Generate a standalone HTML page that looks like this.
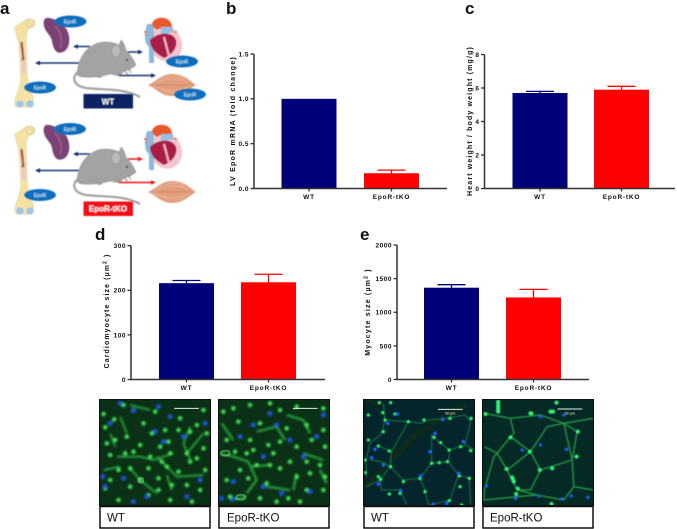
<!DOCTYPE html>
<html lang="en">
<head>
<meta charset="utf-8">
<title>EpoR-tKO figure</title>
<style>
html,body{margin:0;padding:0;background:#fff;}
#fig{display:block;position:absolute;left:0;top:0;}
text{font-family:"Liberation Sans",sans-serif;}
.panel{font-size:17px;font-weight:bold;fill:#111;}
.rec{font-size:5px;fill:#dff;text-anchor:middle;}
.lbl{font-size:11.5px;fill:#111;}
</style>
</head>
<body>
<svg id="fig" width="677" height="529" viewBox="0 0 677 529" xmlns="http://www.w3.org/2000/svg">
<defs>
<filter id="soft" x="-5%" y="-5%" width="110%" height="110%"><feGaussianBlur stdDeviation="3.2"/></filter>
<filter id="soft2" x="-5%" y="-5%" width="110%" height="110%"><feGaussianBlur stdDeviation="1.8"/></filter>
<filter id="sm" x="-5%" y="-5%" width="110%" height="110%"><feGaussianBlur stdDeviation="0.4"/></filter>
<filter id="chartsoft" x="0" y="0" width="677" height="529" filterUnits="userSpaceOnUse"><feGaussianBlur stdDeviation="0.25"/></filter>
<marker id="ab" viewBox="0 0 6 6" refX="5" refY="3" markerWidth="3.2" markerHeight="3.2" orient="auto-start-reverse"><path d="M0 0L6 3L0 6z" fill="#12306f"/></marker>
<marker id="ar" viewBox="0 0 6 6" refX="5" refY="3" markerWidth="3.2" markerHeight="3.2" orient="auto-start-reverse"><path d="M0 0L6 3L0 6z" fill="#f01818"/></marker>
<g id="bone">
<path d="M15 27 L26 20 C28 18 35 19 35 23 C35 27 31 28 28 29 L26 36 L27 76 C28 84 32 92 33 98 C34 103 33 107 30 107 L18 107 C15 107 14 103 16 97 C19 90 21 84 21 76 L19 42 C17 36 15 32 15 27Z" fill="#f4e2a2" stroke="#e3cd8c" stroke-width=".7"/>
<circle cx="30" cy="23" r="4" fill="#efe0a8" stroke="#cfc7a0" stroke-width=".6"/>
<path d="M21.500 42 L23.500 60" stroke="#b9485a" stroke-width="2.400" fill="none"/>
<path d="M23.500 60 L24 73" stroke="#eec0d0" stroke-width="3" fill="none"/>
<path d="M21 44v4M23 52v4M22 58v3" stroke="#4f8a7a" stroke-width="1"/>
<ellipse cx="20" cy="104" rx="3.800" ry="3.600" fill="#9cc6e6"/>
<ellipse cx="30" cy="104" rx="3.800" ry="3.600" fill="#9cc6e6"/>
</g>
<g id="spleen">
<path d="M46 18 C52 17 62 22 67 30 C71 38 70 49 63 52 C56 55 53 48 52 41 C51 35 45 32 44 26 C43 22 44 19 46 18Z" fill="#7d4274"/>
<path d="M55 26 C61 32 63 40 60 48" stroke="#a06a96" stroke-width="1" fill="none"/>
</g>
<g id="mouse">
<path d="M78 72 C71 78 74 86 86 88 C100 90 125 88 140 97" fill="none" stroke="#a3a3a3" stroke-width="2.200"/>
<path d="M77 74 C78 60 84 48 98 43 C106 41 113 42 119 45 L121 40 C123 41 125 46 126 50 C130 54 134 60 136 65 C133 68 129 70 124 71 L120 76 L110 74 C104 76 92 78 83 77 C80 77 78 76 77 74Z" fill="#a3a3a3" stroke="#8e8e8e" stroke-width=".5"/>
<ellipse cx="116" cy="51" rx="4.500" ry="6" fill="#b9b9b9" stroke="#8e8e8e" stroke-width=".6"/>
<circle cx="127" cy="60" r="1" fill="#222"/>
<path d="M96 76l3 1.500l3 -1M118 73l3 3M124 70l5 6M128 68l3 5" stroke="#8a8a8a" stroke-width="1" fill="none"/>
</g>
<g id="heart">
<ellipse cx="166" cy="44" rx="16" ry="18" fill="#f3c6cf" transform="rotate(-22 166 44)"/>
<path d="M147 24h7v39h-5v-16c-3 -2 -4 -6 -4 -10c0 -5 1 -9 2 -13z" fill="#8cb8da"/>
<path d="M152 25 C152 20 158 17 164 18 C170 19 173 24 172 31 L165 33 L164 27 L156 30Z" fill="#e9592c"/>
<path d="M161 27h12v6h-5l-2 10h-6z" fill="#97bfe0"/>
<path d="M150 40 C156 33 172 30 176 40 C178 47 172 55 164 58 C156 54 150 48 150 40Z" fill="#a81b45"/>
<path d="M164 37 L169 56" stroke="#f0b6c4" stroke-width="2.200"/>
<path d="M147 32h-3M177 32h-3M147 35h-2" stroke="#e9592c" stroke-width="1.600"/>
</g>
<g id="muscle">
<path d="M147 85 C154 84 160 74 172 74 C185 74 191 82 196 85 C190 88 184 96 172 96 C160 96 154 86 147 85Z" fill="#e19c7a"/>
<path d="M155 84 C165 78 180 77 188 83M154 86 C166 92 180 92 189 86M158 81 C168 75 178 75 184 79M160 88 C168 94 178 94 184 90" stroke="#f0c2a8" stroke-width=".6" fill="none"/>
<path d="M155 85H190" stroke="#c9785a" stroke-width=".5"/>
</g>
</defs>

<rect width="677" height="529" fill="#fff"/>

<text class="panel" x="0" y="14">a</text>
<text class="panel" x="226" y="14">b</text>
<text class="panel" x="465" y="14">c</text>
<text class="panel" x="95" y="240">d</text>
<text class="panel" x="360" y="240">e</text>

<g filter="url(#sm)">
<use href="#bone"/>
<use href="#spleen"/>
<use href="#heart"/>
<use href="#muscle"/>
<path d="M90 46.500H74" stroke="#12306f" stroke-width="1.500" marker-end="url(#ab)"/>
<path d="M84 63H36" stroke="#12306f" stroke-width="1.500" marker-end="url(#ab)"/>
<use href="#mouse"/>
<path d="M128 52H142" stroke="#12306f" stroke-width="1.500" marker-end="url(#ab)"/>
<path d="M119 75.500H155" stroke="#12306f" stroke-width="1.500" marker-end="url(#ab)"/>
<g><ellipse cx="70.500" cy="21.500" rx="16" ry="6" fill="#0a6ebd"/><text class="rec" x="70" y="23.500">EpoR</text></g>
<g><ellipse cx="40" cy="87.500" rx="16" ry="6" fill="#0a6ebd"/><text class="rec" x="40" y="89.500">EpoR</text></g>
<g><ellipse cx="182" cy="61.500" rx="16" ry="6" fill="#0a6ebd"/><text class="rec" x="182" y="63.500">EpoR</text></g>
<g><ellipse cx="190" cy="94.500" rx="16" ry="6" fill="#0a6ebd"/><text class="rec" x="190" y="96.500">EpoR</text></g>
<g><rect x="83.500" y="94" width="49.500" height="14.500" fill="#0b2463"/><text x="108" y="104.500" fill="#fff" font-size="8" font-weight="bold" text-anchor="middle">WT</text></g>
</g>

<g filter="url(#sm)">
<use href="#bone" y="107"/>
<use href="#spleen" y="107"/>
<use href="#heart" y="107"/>
<use href="#muscle" y="107"/>
<path d="M90 154H74" stroke="#12306f" stroke-width="1.500" marker-end="url(#ab)"/>
<path d="M84 170.500H36" stroke="#12306f" stroke-width="1.500" marker-end="url(#ab)"/>
<use href="#mouse" y="107"/>
<path d="M128 159H142" stroke="#f01818" stroke-width="1.500" marker-end="url(#ar)"/>
<path d="M119 182.500H155" stroke="#f01818" stroke-width="1.500" marker-end="url(#ar)"/>
<g><ellipse cx="70" cy="129" rx="16" ry="6" fill="#0a6ebd"/><text class="rec" x="70" y="131">EpoR</text></g>
<g><ellipse cx="40" cy="195" rx="16" ry="6" fill="#0a6ebd"/><text class="rec" x="40" y="197">EpoR</text></g>
<g><rect x="83.500" y="201.500" width="49.500" height="14.500" fill="#f40f14"/><text x="108" y="211.500" fill="#fff" font-size="8" font-weight="bold" text-anchor="middle">EpoR-tKO</text></g>
</g>

<g id="charts" filter="url(#chartsoft)"></g>

<!-- Micrographs -->
<svg x="99" y="399" width="112" height="107" viewBox="27 27 335 321">
<rect x="27" y="27" width="335" height="321" fill="#0a3015"/>
<g filter="url(#soft)">
<path d="M80 200H150L190 210L250 190M60 130L75 170M90 80L110 130M200 200L260 260L340 255M230 255L245 300M40 240L90 230M180 60L120 45M300 110L280 160L300 210M340 130L290 190M150 270L200 310M120 235L150 270" stroke="#27a03a" stroke-width="6" fill="none"/>
<path d="M72 88h.1M45 112h.1M40 72h.1M75 150h.1M150 165h.1M210 170h.1M235 155h.1M265 120h.1M300 125h.1M320 105h.1M350 130h.1M195 65h.1M130 60h.1M100 45h.1M60 195h.1M85 240h.1M60 270h.1M45 295h.1M120 235h.1M175 235h.1M230 230h.1M265 245h.1M300 215h.1M345 240h.1M150 270h.1M120 290h.1M205 300h.1M245 285h.1M290 285h.1M330 300h.1M175 315h.1M85 330h.1M240 330h.1M305 335h.1M130 185h.1M180 200h.1M240 190h.1M290 190h.1M340 175h.1M110 140h.1M185 130h.1M225 120h.1M160 100h.1M270 85h.1M340 60h.1M50 160h.1M205 265h.1M320 205h.1M105 190h.1M215 215h.1" stroke="#46f058" stroke-width="13" stroke-linecap="round" fill="none"/>
<path d="M45 290h.1M38 260h.1M205 50h.1M240 80h.1M130 62h.1M195 125h.1M100 265h.1M345 100h.1M170 320h.1M290 320h.1M130 335h.1M60 100h.1M90 40h.1M280 140h.1M330 270h.1M220 155h.1" stroke="#1c55e0" stroke-width="15" stroke-linecap="round" fill="none"/>
</g>
<circle cx="152" cy="271" r="8" fill="none" stroke="#7cf08c" stroke-width="2.500" filter="url(#soft2)"/>
<path d="M252 55H326" stroke="#e8f0e8" stroke-width="3"/>
<rect x="27.500" y="27.500" width="334" height="320" fill="none" stroke="#111" stroke-width="5"/>
</svg>

<svg x="218" y="399" width="112" height="107" viewBox="384 27 336 321">
<rect x="384" y="27" width="336" height="321" fill="#0a3015"/>
<g filter="url(#soft)">
<path d="M395 190L430 200L475 215L500 270L470 310M395 100L430 150M590 75L640 90L660 130M620 250L610 300M480 230L540 225M500 125L560 110L585 150M640 190L700 210M420 330L470 320M530 290L600 300M690 240L710 280" stroke="#27a03a" stroke-width="7" fill="none"/>
<path d="M400 65h.1M430 55h.1M480 45h.1M540 40h.1M570 60h.1M620 50h.1M700 55h.1M445 95h.1M510 100h.1M590 115h.1M650 105h.1M700 120h.1M410 150h.1M480 150h.1M535 165h.1M570 155h.1M620 170h.1M665 150h.1M705 170h.1M435 185h.1M490 180h.1M550 190h.1M600 215h.1M650 215h.1M690 225h.1M450 240h.1M500 225h.1M540 225h.1M570 235h.1M620 260h.1M660 250h.1M705 260h.1M410 270h.1M475 265h.1M530 280h.1M595 325h.1M650 300h.1M700 300h.1M420 320h.1M510 325h.1M560 335h.1M630 335h.1M470 190h.1" stroke="#46f058" stroke-width="13" stroke-linecap="round" fill="none"/>
<path d="M430 275h.1M395 325h.1M430 327h.1M640 200h.1M540 70h.1M490 105h.1M600 150h.1M520 290h.1M575 310h.1M450 140h.1M700 75h.1M680 140h.1M520 200h.1M560 105h.1M660 305h.1" stroke="#1c55e0" stroke-width="15" stroke-linecap="round" fill="none"/>
</g>
<ellipse cx="406" cy="190" rx="14" ry="8" fill="none" stroke="#7cf08c" stroke-width="3" filter="url(#soft2)"/>
<ellipse cx="452" cy="322" rx="14" ry="8" fill="none" stroke="#7cf08c" stroke-width="3" filter="url(#soft2)"/>
<path d="M609 55H683" stroke="#e8f0e8" stroke-width="3"/>
<rect x="384.500" y="27.500" width="335" height="320" fill="none" stroke="#111" stroke-width="5"/>
</svg>

<svg x="363" y="399" width="112" height="107" viewBox="40 27 334 321">
<rect x="40" y="27" width="334" height="321" fill="#04252c"/>
<path d="M40 295L120 215L190 140L240 105L300 70L350 40" stroke="#0c2a1c" stroke-width="20" fill="none" filter="url(#soft)"/>
<path d="M48 30L100 50" stroke="#0c2a1c" stroke-width="16" fill="none" filter="url(#soft)"/>
<g filter="url(#soft2)">
<path d="M100 40L105 90L95 130L60 160L48 210L50 260M105 90L175 95L215 100L235 90L290 85L345 75L362 95L345 165L300 180L295 215L325 255L358 265L362 345M175 95L125 185L120 230L160 270L210 265L225 300L235 345M120 230L90 270L95 300L150 300L170 345M210 265L245 220L295 215M245 220L245 135L265 155L300 180M345 165L374 180M90 170L125 185M60 210L95 215L120 230M48 290L90 270M325 255L300 330M300 330L235 345" stroke="#1c8a48" stroke-width="2.500" fill="none"/>
<path d="M88 38h.1M122 38h.1M55 75h.1M98 68h.1M105 90h.1M135 72h.1M175 95h.1M222 90h.1M300 85h.1M363 85h.1M100 125h.1M55 150h.1M85 168h.1M118 183h.1M252 142h.1M272 158h.1M297 180h.1M332 170h.1M362 182h.1M45 210h.1M245 220h.1M268 218h.1M292 215h.1M122 230h.1M85 260h.1M160 275h.1M210 265h.1M45 248h.1M92 268h.1M328 258h.1M358 265h.1M225 305h.1M330 290h.1M298 332h.1M335 345h.1M118 312h.1M150 310h.1" stroke="#30ee6c" stroke-width="10" stroke-linecap="round" fill="none"/>
<path d="M142 72h.1M113 100h.1M278 88h.1M255 130h.1M340 155h.1M75 178h.1M65 203h.1M240 185h.1M100 225h.1M212 258h.1M326 250h.1M85 282h.1M152 302h.1M290 340h.1M250 343h.1" stroke="#1a60f0" stroke-width="11" stroke-linecap="round" fill="none"/>
</g>
<path d="M264 58H338" stroke="#e4eee4" stroke-width="3"/>
<text x="301" y="73" font-size="11" fill="#e8f0e8" text-anchor="middle">50 µm</text>
<rect x="40.500" y="27.500" width="333" height="320" fill="none" stroke="#111" stroke-width="5"/>
</svg>

<svg x="482" y="399" width="112" height="107" viewBox="395 27 335 321">
<rect x="395" y="27" width="335" height="321" fill="#052a26"/>
<g filter="url(#soft2)">
<path d="M400 70L480 85L570 75L640 100L730 85M480 85L490 130L480 140L440 190L402 170M480 140L540 185L590 110L640 100L680 125L665 210L670 290L640 330L560 315L500 300L470 240L440 190L430 200L402 300L400 330L500 320L560 315M540 185L570 240L540 300L500 300M570 240L665 210M470 240L540 185M670 290L730 300M640 100L665 210" stroke="#239a44" stroke-width="4" fill="none"/>
<path d="M443 35V65M405 72h.1M540 70h3M600 65h8M618 38h.1M480 142h.1M538 185h.1M568 240h.1M468 237h.1M485 262L490 275M502 296h.1M682 125h.1M678 200h.1M603 342h.1M497 312h.1M605 235h.1" stroke="#30ee74" stroke-width="12" stroke-linecap="round" fill="none"/>
<path d="M515 180h.1M570 165h.1M648 178h.1M408 288h.1M495 325h.1M565 318h.1M635 326h.1M712 322h.1M662 318h.1M570 80h.1M640 75h.1" stroke="#1a60f0" stroke-width="10" stroke-linecap="round" fill="none"/>
</g>
<path d="M621 57H695" stroke="#e4eee4" stroke-width="3"/>
<text x="658" y="73" font-size="11" fill="#e8f0e8" text-anchor="middle">50 µm</text>
<rect x="395.500" y="27.500" width="334" height="320" fill="none" stroke="#111" stroke-width="5"/>
</svg>

<g><rect x="100" y="506.500" width="110" height="21.500" fill="#fff" stroke="#111" stroke-width="1.500"/><text class="lbl" x="107" y="521.500">WT</text></g>
<g><rect x="219" y="506.500" width="110" height="21.500" fill="#fff" stroke="#111" stroke-width="1.500"/><text class="lbl" x="227" y="521.500">EpoR-tKO</text></g>
<g><rect x="364" y="506.500" width="110" height="21.500" fill="#fff" stroke="#111" stroke-width="1.500"/><text class="lbl" x="371" y="521.500">WT</text></g>
<g><rect x="483" y="506.500" width="110" height="21.500" fill="#fff" stroke="#111" stroke-width="1.500"/><text class="lbl" x="490" y="521.500">EpoR-tKO</text></g>
</svg>

<script>
var categories = ['WT', 'EpoR-tKO'];
var barColors = ['#000078', '#ff0000'];

var mrnaValues = [1.0, 0.17];
var mrnaErrors = [0, 0.035];
var mrnaTicks = ['0.0', '0.5', '1.0', '1.5'];

var heartValues = [5.7, 5.9];
var heartErrors = [0.1, 0.2];
var heartTicks = ['0', '2', '4', '6', '8'];

var cardioValues = [216, 218];
var cardioErrors = [6, 18];
var cardioTicks = ['0', '100', '200', '300'];

var myocyteValues = [1365, 1220];
var myocyteErrors = [45, 120];
var myocyteTicks = ['0', '500', '1000', '1500', '2000'];

var SVGNS = 'http://www.w3.org/2000/svg';

function make(parent, tag, attrs, txt) {
  var el = document.createElementNS(SVGNS, tag);
  for (var k in attrs) { el.setAttribute(k, attrs[k]); }
  if (txt !== undefined) { el.textContent = txt; }
  parent.appendChild(el);
  return el;
}

function drawChart(opt, values, errors, ticks) {
  var root = document.getElementById('charts');
  var g = make(root, 'g', {});
  
  

  var maxV = parseFloat(ticks[ticks.length - 1]);
  function yScale(v) { return opt.y0 - (v / maxV) * (opt.y0 - opt.yTop); }
  function xScale(i) { return opt.barX[i]; }
  var barW = 55;

  categories.forEach(function (cat, i) {
    var top = yScale(values[i]);
    var cx = xScale(i) + barW / 2;
    var bar = make(g, 'rect', { x: xScale(i), y: top, width: barW, height: opt.y0 - top, fill: barColors[i] });
    
    
    if (errors[i] > 0) {
      var errTop = yScale(values[i] + errors[i]);
      var err = make(g, 'path', {
        d: 'M' + cx + ' ' + top + 'V' + errTop + 'M' + (cx - 14) + ' ' + errTop + 'H' + (cx + 14),
        stroke: barColors[i], 'stroke-width': 1.3, fill: 'none'
      });
      
      
    }
    var tick = make(g, 'path', { d: 'M' + cx + ' ' + opt.y0 + 'v3', stroke: '#333', 'stroke-width': 1.3 });
    
    
    var lab = make(g, 'text', {
      x: cx, y: opt.y0 + 10.5, 'font-size': 6.5, 'font-weight': 'bold', 'letter-spacing': 0.8, 'text-anchor': 'middle', fill: '#111'
    }, cat);
    
    
  });

  ticks.forEach(function (t) {
    var y = yScale(parseFloat(t));
    var tk = make(g, 'path', { d: 'M' + opt.x0 + ' ' + y + 'h-3.500', stroke: '#333', 'stroke-width': 1.3 });
    
    
    var lb = make(g, 'text', {
      x: opt.x0 - 5, y: y + 2.4, 'font-size': 6.5, 'font-weight': 'bold', 'letter-spacing': 0.5, 'text-anchor': 'end', fill: '#111'
    }, t);
    
    
  });

  var axes = make(g, 'path', {
    d: 'M' + opt.x0 + ' ' + opt.yTop + 'V' + opt.y0 + 'H' + opt.xEnd,
    stroke: '#333', 'stroke-width': 1.5, fill: 'none'
  });
  
  

  var title = make(g, 'text', {
    transform: 'translate(' + opt.titleX + ' ' + opt.titleY + ') rotate(-90)',
    'font-size': 7, 'font-weight': 'bold', 'letter-spacing': opt.titleSpacing, 'text-anchor': 'middle', fill: '#111'
  }, opt.title);
  
  
  if (opt.sup) {
    make(title, 'tspan', { dy: -2.5, 'font-size': 5 }, '2');
    make(title, 'tspan', { dy: 2.5 }, ' )');
  }
}

drawChart({ name: 'chart-lv-epor-mrna', x0: 254, y0: 188.5, yTop: 54, xEnd: 447, barX: [281.5, 364], title: 'LV  EpoR mRNA (fold change)', titleX: 235, titleY: 121, titleSpacing: 1.25 }, mrnaValues, mrnaErrors, mrnaTicks);
drawChart({ name: 'chart-heart-body-weight', x0: 484.5, y0: 188.5, yTop: 54.5, xEnd: 675, barX: [512.5, 594], title: 'Heart weight / body weight  (mg/g)', titleX: 472, titleY: 121, titleSpacing: 1.15 }, heartValues, heartErrors, heartTicks);
drawChart({ name: 'chart-cardiomyocyte-size', x0: 131, y0: 379.5, yTop: 245.7, xEnd: 325, barX: [159, 241], title: 'Cardiomyocyte size (µm', sup: true, titleX: 109, titleY: 311, titleSpacing: 1.1 }, cardioValues, cardioErrors, cardioTicks);
drawChart({ name: 'chart-myocyte-size', x0: 397, y0: 379.5, yTop: 245, xEnd: 589, barX: [424, 506], title: 'Myocyte size (µm', sup: true, titleX: 370, titleY: 312, titleSpacing: 1.2 }, myocyteValues, myocyteErrors, myocyteTicks);
</script>
</body>
</html>
